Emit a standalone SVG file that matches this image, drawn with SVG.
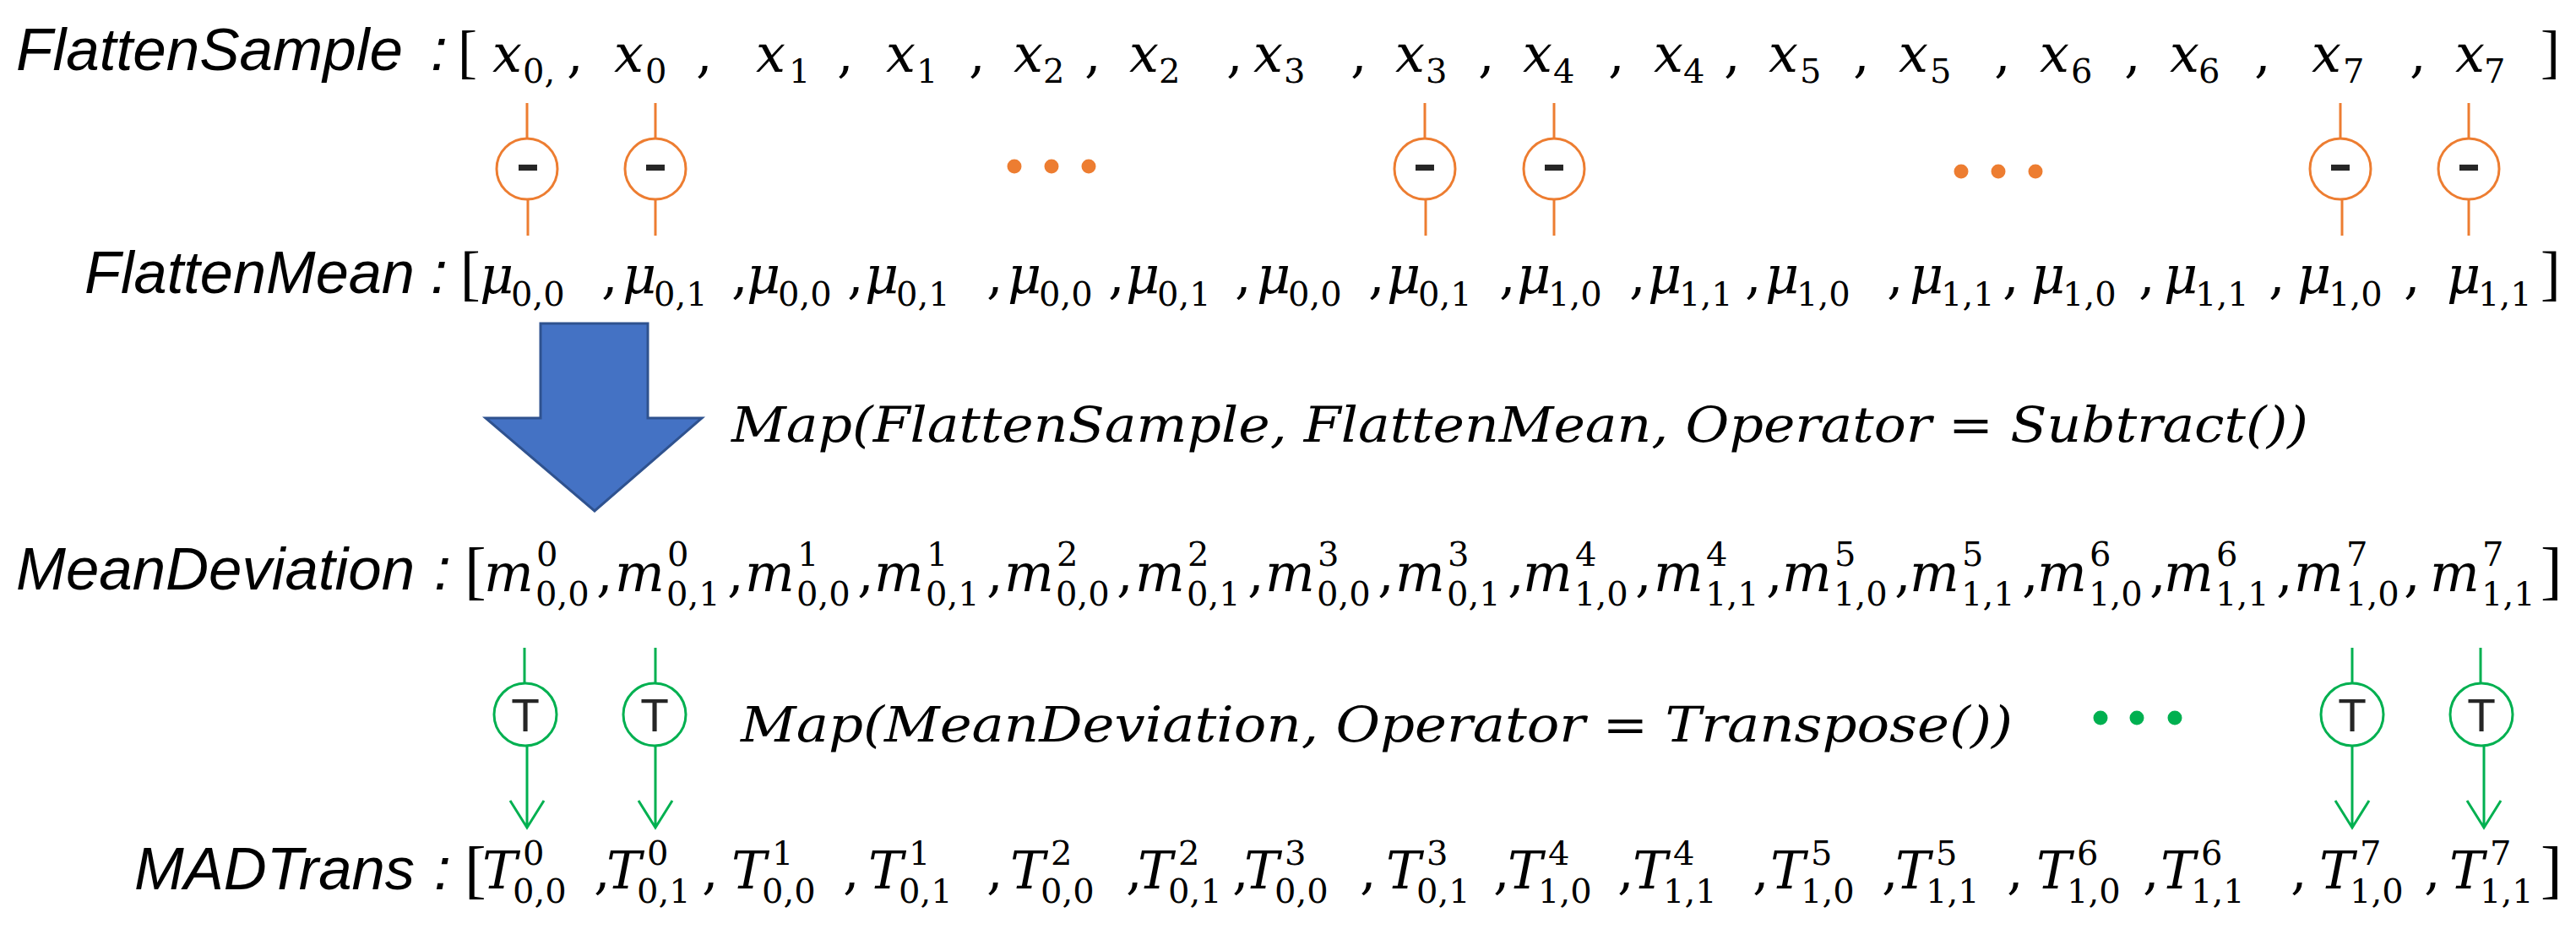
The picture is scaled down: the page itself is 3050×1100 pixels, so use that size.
<svg xmlns="http://www.w3.org/2000/svg" width="3050" height="1100" viewBox="0 0 3050 1100">
<style>
.lbl{font-family:"Liberation Sans",Arial,sans-serif;font-style:italic;font-size:71px;fill:#000}
.v{font-family:"DejaVu Serif",serif;font-style:italic;font-size:62px;fill:#000}
.d{font-family:"DejaVu Serif",serif;font-size:40px;fill:#000}
.c{font-family:"DejaVu Serif",serif;font-size:62px;fill:#000}
.br{font-family:"Liberation Serif",serif;fill:#000}
.map{font-family:"DejaVu Serif",serif;font-style:italic;font-size:57px;fill:#000}
.oc{fill:#fff;stroke:#ED7D31;stroke-width:3}
.gc{fill:#fff;stroke:#00B050;stroke-width:3}
.ol{stroke:#ED7D31;stroke-width:3;fill:none}
.gl{stroke:#00B050;stroke-width:3;fill:none}
.minus{font-family:"Liberation Sans",Arial,sans-serif;font-size:90px;fill:#262626;text-anchor:middle}
.tt{font-family:"Liberation Sans",Arial,sans-serif;font-size:55px;fill:#262626;text-anchor:middle}
.od{fill:#ED7D31}
.gd{fill:#00B050}
</style>

<g id="connectors">
  <g id="orange-lines">
    <line class="ol" x1="624" y1="122" x2="624" y2="164"/><line class="ol" x1="625" y1="236" x2="625" y2="279"/>
    <line class="ol" x1="776" y1="122" x2="776" y2="164"/><line class="ol" x1="776" y1="236" x2="776" y2="279"/>
    <line class="ol" x1="1687" y1="122" x2="1687" y2="164"/><line class="ol" x1="1688" y1="236" x2="1688" y2="279"/>
    <line class="ol" x1="1840" y1="122" x2="1840" y2="164"/><line class="ol" x1="1840" y1="236" x2="1840" y2="279"/>
    <line class="ol" x1="2771" y1="122" x2="2771" y2="164"/><line class="ol" x1="2773" y1="236" x2="2773" y2="279"/>
    <line class="ol" x1="2923" y1="122" x2="2923" y2="164"/><line class="ol" x1="2923" y1="236" x2="2923" y2="279"/>
  </g>
  <g id="green-arrows">
    <line class="gl" x1="621" y1="767" x2="621" y2="809"/><path class="gl" d="M624,883 V979 M604,948 L624,980 L644,948"/>
    <line class="gl" x1="776" y1="767" x2="776" y2="809"/><path class="gl" d="M776,883 V979 M756,948 L776,980 L796,948"/>
    <line class="gl" x1="2785" y1="767" x2="2785" y2="809"/><path class="gl" d="M2785,883 V979 M2765,948 L2785,980 L2805,948"/>
    <line class="gl" x1="2937" y1="767" x2="2937" y2="809"/><path class="gl" d="M2941,883 V979 M2921,948 L2941,980 L2961,948"/>
  </g>
  <path id="block-arrow" d="M640,383 H767 V495 H831 L704,605 L575,495 H640 Z" fill="#4472C4" stroke="#2F528F" stroke-width="3"/>
</g>

<g id="labels">
  <text class="lbl" x="19" y="83" textLength="458" lengthAdjust="spacingAndGlyphs">FlattenSample</text>
  <text class="lbl" x="510" y="83">:</text>
  <text class="lbl" x="100" y="347" textLength="391" lengthAdjust="spacingAndGlyphs">FlattenMean</text>
  <text class="lbl" x="510" y="347">:</text>
  <text class="lbl" x="19" y="698" textLength="472" lengthAdjust="spacingAndGlyphs">MeanDeviation</text>
  <text class="lbl" x="514" y="698">:</text>
  <text class="lbl" x="159" y="1053" textLength="332" lengthAdjust="spacingAndGlyphs">MADTrans</text>
  <text class="lbl" x="514" y="1053">:</text>
</g>

<g id="flatten-sample">
  <text class="br" font-size="69" x="542" y="85">[</text>
  <text class="v" x="583" y="85">x</text><text class="d" x="619" y="98">0,</text><text class="c" x="671" y="85">,</text>
  <text class="v" x="727" y="85">x</text><text class="d" x="764" y="98">0</text><text class="c" x="824" y="85">,</text>
  <text class="v" x="895" y="85">x</text><text class="d" x="934" y="98">1</text><text class="c" x="991" y="85">,</text>
  <text class="v" x="1049" y="85">x</text><text class="d" x="1085" y="98">1</text><text class="c" x="1147" y="85">,</text>
  <text class="v" x="1200" y="85">x</text><text class="d" x="1235" y="98">2</text><text class="c" x="1284" y="85">,</text>
  <text class="v" x="1337" y="85">x</text><text class="d" x="1372" y="98">2</text><text class="c" x="1452" y="85">,</text>
  <text class="v" x="1484" y="85">x</text><text class="d" x="1520" y="98">3</text><text class="c" x="1599" y="85">,</text>
  <text class="v" x="1652" y="85">x</text><text class="d" x="1688" y="98">3</text><text class="c" x="1750" y="85">,</text>
  <text class="v" x="1803" y="85">x</text><text class="d" x="1839" y="98">4</text><text class="c" x="1904" y="85">,</text>
  <text class="v" x="1958" y="85">x</text><text class="d" x="1993" y="98">4</text><text class="c" x="2041" y="85">,</text>
  <text class="v" x="2094" y="85">x</text><text class="d" x="2131" y="98">5</text><text class="c" x="2194" y="85">,</text>
  <text class="v" x="2248" y="85">x</text><text class="d" x="2285" y="98">5</text><text class="c" x="2361" y="85">,</text>
  <text class="v" x="2415" y="85">x</text><text class="d" x="2452" y="98">6</text><text class="c" x="2515" y="85">,</text>
  <text class="v" x="2569" y="85">x</text><text class="d" x="2603" y="98">6</text><text class="c" x="2669" y="85">,</text>
  <text class="v" x="2737" y="85">x</text><text class="d" x="2774" y="98">7</text><text class="c" x="2853" y="85">,</text>
  <text class="v" x="2907" y="85">x</text><text class="d" x="2941" y="98">7</text>
  <text class="br" font-size="69" x="3008" y="85">]</text>
</g>

<g id="subtract-ops">
  <g id="sub-op-1"><circle class="oc" cx="624" cy="200" r="36"/><text class="minus" x="625" y="223">-</text></g>
  <g id="sub-op-2"><circle class="oc" cx="776" cy="200" r="36"/><text class="minus" x="776" y="223">-</text></g>
  <g id="sub-op-3"><circle class="oc" cx="1687" cy="200" r="36"/><text class="minus" x="1687" y="223">-</text></g>
  <g id="sub-op-4"><circle class="oc" cx="1840" cy="200" r="36"/><text class="minus" x="1840" y="223">-</text></g>
  <g id="sub-op-5"><circle class="oc" cx="2771" cy="200" r="36"/><text class="minus" x="2771" y="223">-</text></g>
  <g id="sub-op-6"><circle class="oc" cx="2923" cy="200" r="36"/><text class="minus" x="2923" y="223">-</text></g>
  <g id="orange-dots-1"><circle class="od" cx="1201" cy="197" r="8.5"/><circle class="od" cx="1245" cy="197" r="8.5"/><circle class="od" cx="1289" cy="197" r="8.5"/></g>
  <g id="orange-dots-2"><circle class="od" cx="2322" cy="203" r="8.5"/><circle class="od" cx="2366" cy="203" r="8.5"/><circle class="od" cx="2410" cy="203" r="8.5"/></g>
</g>

<g id="flatten-mean">
  <text class="br" font-size="71" x="545" y="347">[</text>
  <text class="v" x="568" y="347">μ</text><text class="d" x="605" y="362">0,0</text><text class="c" x="712" y="347">,</text>
  <text class="v" x="737" y="347">μ</text><text class="d" x="774" y="362">0,1</text><text class="c" x="866" y="347">,</text>
  <text class="v" x="884" y="347">μ</text><text class="d" x="921" y="362">0,0</text><text class="c" x="1003" y="347">,</text>
  <text class="v" x="1024" y="347">μ</text><text class="d" x="1061" y="362">0,1</text><text class="c" x="1168" y="347">,</text>
  <text class="v" x="1193" y="347">μ</text><text class="d" x="1230" y="362">0,0</text><text class="c" x="1312" y="347">,</text>
  <text class="v" x="1333" y="347">μ</text><text class="d" x="1370" y="362">0,1</text><text class="c" x="1462" y="347">,</text>
  <text class="v" x="1488" y="347">μ</text><text class="d" x="1525" y="362">0,0</text><text class="c" x="1620" y="347">,</text>
  <text class="v" x="1642" y="347">μ</text><text class="d" x="1679" y="362">0,1</text><text class="c" x="1775" y="347">,</text>
  <text class="v" x="1796" y="347">μ</text><text class="d" x="1833" y="362">1,0</text><text class="c" x="1929" y="347">,</text>
  <text class="v" x="1951" y="347">μ</text><text class="d" x="1988" y="362">1,1</text><text class="c" x="2066" y="347">,</text>
  <text class="v" x="2090" y="347">μ</text><text class="d" x="2127" y="362">1,0</text><text class="c" x="2234" y="347">,</text>
  <text class="v" x="2261" y="347">μ</text><text class="d" x="2298" y="362">1,1</text><text class="c" x="2371" y="347">,</text>
  <text class="v" x="2405" y="347">μ</text><text class="d" x="2442" y="362">1,0</text><text class="c" x="2532" y="347">,</text>
  <text class="v" x="2562" y="347">μ</text><text class="d" x="2599" y="362">1,1</text><text class="c" x="2686" y="347">,</text>
  <text class="v" x="2720" y="347">μ</text><text class="d" x="2757" y="362">1,0</text><text class="c" x="2846" y="347">,</text>
  <text class="v" x="2897" y="347">μ</text><text class="d" x="2934" y="362">1,1</text>
  <text class="br" font-size="71" x="3008" y="347">]</text>
</g>

<g id="map-subtract">
  <text class="map" x="866" y="523" textLength="1867" lengthAdjust="spacingAndGlyphs">Map(FlattenSample, FlattenMean, Operator = Subtract())</text>
</g>

<g id="mean-deviation">
  <text class="br" font-size="77" x="550" y="701">[</text>
  <text class="v" x="573" y="700">m</text><text class="d" x="635" y="670">0</text><text class="d" x="634" y="717">0,0</text><text class="c" x="706" y="700">,</text>
  <text class="v" x="728" y="700">m</text><text class="d" x="790" y="670">0</text><text class="d" x="789" y="717">0,1</text><text class="c" x="861" y="700">,</text>
  <text class="v" x="882" y="700">m</text><text class="d" x="944" y="670">1</text><text class="d" x="943" y="717">0,0</text><text class="c" x="1015" y="700">,</text>
  <text class="v" x="1035" y="700">m</text><text class="d" x="1097" y="670">1</text><text class="d" x="1096" y="717">0,1</text><text class="c" x="1168" y="700">,</text>
  <text class="v" x="1189" y="700">m</text><text class="d" x="1251" y="670">2</text><text class="d" x="1250" y="717">0,0</text><text class="c" x="1322" y="700">,</text>
  <text class="v" x="1344" y="700">m</text><text class="d" x="1406" y="670">2</text><text class="d" x="1405" y="717">0,1</text><text class="c" x="1477" y="700">,</text>
  <text class="v" x="1498" y="700">m</text><text class="d" x="1560" y="670">3</text><text class="d" x="1559" y="717">0,0</text><text class="c" x="1631" y="700">,</text>
  <text class="v" x="1652" y="700">m</text><text class="d" x="1714" y="670">3</text><text class="d" x="1713" y="717">0,1</text><text class="c" x="1785" y="700">,</text>
  <text class="v" x="1803" y="700">m</text><text class="d" x="1865" y="670">4</text><text class="d" x="1864" y="717">1,0</text><text class="c" x="1936" y="700">,</text>
  <text class="v" x="1958" y="700">m</text><text class="d" x="2020" y="670">4</text><text class="d" x="2019" y="717">1,1</text><text class="c" x="2091" y="700">,</text>
  <text class="v" x="2110" y="700">m</text><text class="d" x="2172" y="670">5</text><text class="d" x="2171" y="717">1,0</text><text class="c" x="2243" y="700">,</text>
  <text class="v" x="2261" y="700">m</text><text class="d" x="2323" y="670">5</text><text class="d" x="2322" y="717">1,1</text><text class="c" x="2394" y="700">,</text>
  <text class="v" x="2412" y="700">m</text><text class="d" x="2474" y="670">6</text><text class="d" x="2473" y="717">1,0</text><text class="c" x="2545" y="700">,</text>
  <text class="v" x="2562" y="700">m</text><text class="d" x="2624" y="670">6</text><text class="d" x="2623" y="717">1,1</text><text class="c" x="2695" y="700">,</text>
  <text class="v" x="2716" y="700">m</text><text class="d" x="2778" y="670">7</text><text class="d" x="2777" y="717">1,0</text><text class="c" x="2846" y="700">,</text>
  <text class="v" x="2877" y="700">m</text><text class="d" x="2939" y="670">7</text><text class="d" x="2938" y="717">1,1</text>
  <text class="br" font-size="77" x="3008" y="701">]</text>
</g>

<g id="transpose-ops">
  <g id="t-op-1"><circle class="gc" cx="622" cy="846" r="37"/><text class="tt" x="622" y="866">T</text></g>
  <g id="t-op-2"><circle class="gc" cx="775" cy="846" r="37"/><text class="tt" x="775" y="866">T</text></g>
  <g id="t-op-3"><circle class="gc" cx="2785" cy="846" r="37"/><text class="tt" x="2785" y="866">T</text></g>
  <g id="t-op-4"><circle class="gc" cx="2938" cy="846" r="37"/><text class="tt" x="2938" y="866">T</text></g>
  <g id="green-dots"><circle class="gd" cx="2487" cy="850" r="8.5"/><circle class="gd" cx="2530" cy="850" r="8.5"/><circle class="gd" cx="2575" cy="850" r="8.5"/></g>
</g>

<g id="map-transpose">
  <text class="map" x="877" y="878" textLength="1506" lengthAdjust="spacingAndGlyphs">Map(MeanDeviation, Operator = Transpose())</text>
</g>

<g id="mad-trans">
  <text class="br" font-size="77" x="550" y="1055">[</text>
  <text class="v" x="571" y="1052">T</text><text class="d" x="619" y="1024">0</text><text class="d" x="607" y="1069">0,0</text><text class="c" x="703" y="1052">,</text>
  <text class="v" x="718" y="1052">T</text><text class="d" x="766" y="1024">0</text><text class="d" x="754" y="1069">0,1</text><text class="c" x="831" y="1052">,</text>
  <text class="v" x="866" y="1052">T</text><text class="d" x="914" y="1024">1</text><text class="d" x="902" y="1069">0,0</text><text class="c" x="998" y="1052">,</text>
  <text class="v" x="1028" y="1052">T</text><text class="d" x="1076" y="1024">1</text><text class="d" x="1064" y="1069">0,1</text><text class="c" x="1168" y="1052">,</text>
  <text class="v" x="1196" y="1052">T</text><text class="d" x="1244" y="1024">2</text><text class="d" x="1232" y="1069">0,0</text><text class="c" x="1333" y="1052">,</text>
  <text class="v" x="1347" y="1052">T</text><text class="d" x="1395" y="1024">2</text><text class="d" x="1383" y="1069">0,1</text><text class="c" x="1459" y="1052">,</text>
  <text class="v" x="1473" y="1052">T</text><text class="d" x="1521" y="1024">3</text><text class="d" x="1509" y="1069">0,0</text><text class="c" x="1610" y="1052">,</text>
  <text class="v" x="1641" y="1052">T</text><text class="d" x="1689" y="1024">3</text><text class="d" x="1677" y="1069">0,1</text><text class="c" x="1768" y="1052">,</text>
  <text class="v" x="1785" y="1052">T</text><text class="d" x="1833" y="1024">4</text><text class="d" x="1821" y="1069">1,0</text><text class="c" x="1915" y="1052">,</text>
  <text class="v" x="1933" y="1052">T</text><text class="d" x="1981" y="1024">4</text><text class="d" x="1969" y="1069">1,1</text><text class="c" x="2075" y="1052">,</text>
  <text class="v" x="2096" y="1052">T</text><text class="d" x="2144" y="1024">5</text><text class="d" x="2132" y="1069">1,0</text><text class="c" x="2228" y="1052">,</text>
  <text class="v" x="2244" y="1052">T</text><text class="d" x="2292" y="1024">5</text><text class="d" x="2280" y="1069">1,1</text><text class="c" x="2376" y="1052">,</text>
  <text class="v" x="2411" y="1052">T</text><text class="d" x="2459" y="1024">6</text><text class="d" x="2447" y="1069">1,0</text><text class="c" x="2537" y="1052">,</text>
  <text class="v" x="2558" y="1052">T</text><text class="d" x="2606" y="1024">6</text><text class="d" x="2594" y="1069">1,1</text><text class="c" x="2712" y="1052">,</text>
  <text class="v" x="2746" y="1052">T</text><text class="d" x="2794" y="1024">7</text><text class="d" x="2782" y="1069">1,0</text><text class="c" x="2870" y="1052">,</text>
  <text class="v" x="2900" y="1052">T</text><text class="d" x="2948" y="1024">7</text><text class="d" x="2936" y="1069">1,1</text>
  <text class="br" font-size="77" x="3008" y="1055">]</text>
</g>
</svg>
